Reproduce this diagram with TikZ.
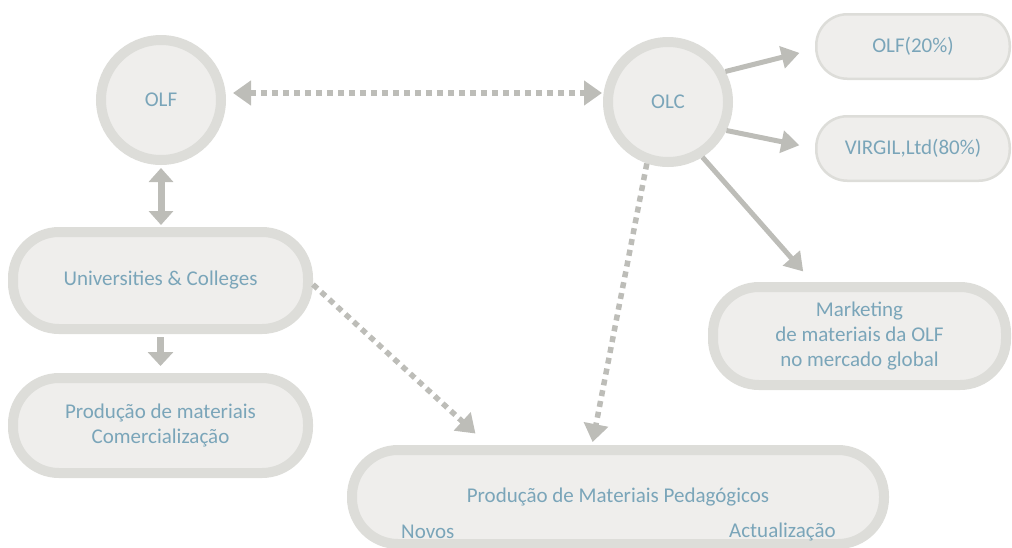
\documentclass[tikz,border=0pt]{standalone}
\usepackage{fontspec}
\setmainfont{Carlito}
\usetikzlibrary{arrows.meta}
\definecolor{ringgray}{RGB}{221,221,217}
\definecolor{fillgray}{RGB}{239,238,236}
\definecolor{arrowgray}{RGB}{189,189,184}
\definecolor{textblue}{RGB}{122,165,185}
\tikzstyle{every node}+=[inner sep=0pt]
\tikzstyle{bodytext}=[text=textblue, font=\fontsize{21pt}{25pt}\selectfont]
\tikzstyle{ball}=[bodytext, circle, draw=ringgray, fill=fillgray, line width=10pt, minimum size=120pt]
\tikzstyle{pill}=[bodytext, rectangle, rounded corners=46pt, draw=ringgray, fill=fillgray, line width=10pt, align=center]
\tikzstyle{thinpill}=[pill, line width=2.5pt, rounded corners=31pt]
\tikzstyle{solidarrow}=[draw=arrowgray, line width=5pt, -{Triangle[length=18pt,width=22pt]}]
\tikzstyle{dotarrow}=[draw=arrowgray, line width=5.5pt, dash pattern=on 6pt off 5pt, -{Triangle[length=18pt,width=24pt]}]
\tikzstyle{fatarrow}=[draw=arrowgray, line width=7pt]

\begin{document}
\begin{tikzpicture}[x=1pt,y=-1pt]
\tikzstyle{every node}+=[inner sep=0pt]
\useasboundingbox (0,0) rectangle (1012,547);

\node [ball] (olf) at (161,100) {OLF};
\node [ball] (olc) at (668,102) {OLC};

\node [thinpill, minimum width=193.5pt, minimum height=64.5pt] (olf20) at (913,46.5) {OLF(20\%)};
\node [thinpill, minimum width=193.5pt, minimum height=64.5pt] (virgil) at (913,148.5) {VIRGIL,Ltd(80\%)};

\node [pill, minimum width=295pt, minimum height=97pt] (univ) at (160.5,280.5) {Universities \& Colleges};
\node [pill, minimum width=295pt, minimum height=95pt] (prodmat) at (160.5,425.5) {Produção de materiais\\Comercialização};
\node [pill, minimum width=293pt, minimum height=98pt] (market) at (859.5,336) {Marketing\\de materiais da OLF\\no mercado global};
\node [pill, minimum width=532pt, minimum height=94pt] (pedag) at (618,497) {Produção de Materiais Pedagógicos};
\node [bodytext, anchor=west] (novos) at ([xshift=54pt,yshift=-35pt]pedag.west) {Novos};
\node [bodytext, anchor=east] (actual) at ([xshift=-53pt,yshift=-35pt]pedag.east) {Actualização};

\draw [dotarrow, {Triangle[length=18pt,width=24pt]}-{Triangle[length=18pt,width=24pt]}, shorten <=7pt, shorten >=1pt] ([yshift=7pt]olf.east) -- ([yshift=7pt]olf.east -| olc.west);
\draw [dotarrow, shorten >=3pt] (olc.251) -- ([xshift=-26pt]pedag.north);
\draw [dotarrow, shorten >=17pt] ([yshift=-4pt]univ.east) -- ([xshift=-130pt]pedag.north);

\draw [fatarrow, {Triangle[length=14pt,width=24pt]}-{Triangle[length=14pt,width=24pt]}, shorten <=3pt, shorten >=2pt] (olf.south) -- (olf.south |- univ.north);
\draw [fatarrow, -{Triangle[length=14pt,width=25pt]}, shorten <=3pt, shorten >=7pt] (univ.south) -- (prodmat.north);

\draw [solidarrow, shorten >=16pt] (olc.28) -- ([yshift=-2.5pt]olf20.west);
\draw [solidarrow, shorten >=16pt] (olc.334) -- (virgil.west);
\draw [solidarrow, shorten >=14pt] (olc.302) -- ([xshift=-47pt]market.north);
\end{tikzpicture}
\end{document}
